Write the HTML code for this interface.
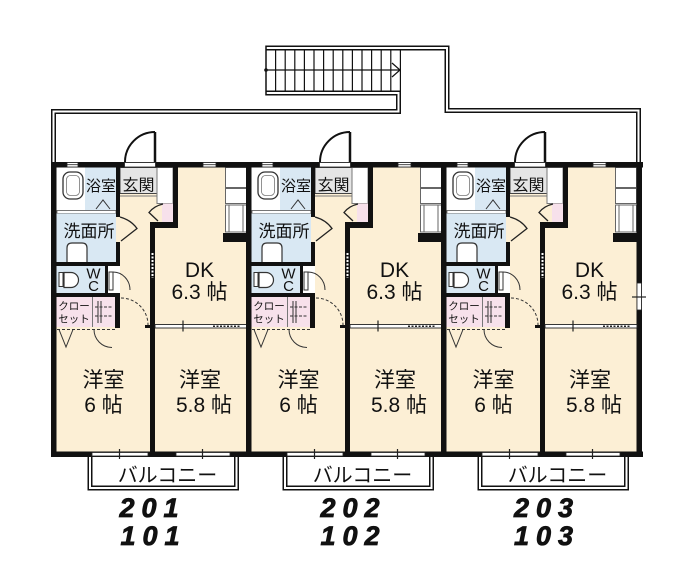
<!DOCTYPE html>
<html><head><meta charset="utf-8">
<style>
html,body{margin:0;padding:0;background:#fff;}
svg{display:block}
text{font-family:"Liberation Sans","Noto Sans CJK JP",sans-serif;fill:#111;}
</style></head><body>
<svg width="700" height="581" viewBox="0 0 700 581" xmlns="http://www.w3.org/2000/svg">
<rect x="0" y="0" width="700" height="581" fill="#fff"/>

<!-- corridor & stairs double lines -->
<g fill="none" stroke-linejoin="miter">
<path d="M53.5,163 V111.5 H398.5 V93 H266" stroke="#111" stroke-width="5"/>
<path d="M266,48 H447 V110.5 H638.5 V163" stroke="#111" stroke-width="5"/>
<path d="M53.5,166 V111.5 H398.5 V93 H266" stroke="#fff" stroke-width="2"/>
<path d="M266,48 H447 V110.5 H638.5 V166" stroke="#fff" stroke-width="2"/>
</g>
<g stroke="#111" stroke-width="1.2">
<line x1="275.6" y1="50" x2="275.6" y2="90.5"/>
<line x1="285.2" y1="50" x2="285.2" y2="90.5"/>
<line x1="294.8" y1="50" x2="294.8" y2="90.5"/>
<line x1="304.4" y1="50" x2="304.4" y2="90.5"/>
<line x1="314" y1="50" x2="314" y2="90.5"/>
<line x1="323.6" y1="50" x2="323.6" y2="90.5"/>
<line x1="333.2" y1="50" x2="333.2" y2="90.5"/>
<line x1="342.8" y1="50" x2="342.8" y2="90.5"/>
<line x1="352.4" y1="50" x2="352.4" y2="90.5"/>
<line x1="362" y1="50" x2="362" y2="90.5"/>
<line x1="371.6" y1="50" x2="371.6" y2="90.5"/>
<line x1="381.2" y1="50" x2="381.2" y2="90.5"/>
<line x1="390.8" y1="50" x2="390.8" y2="90.5"/>
<line x1="400.4" y1="50" x2="400.4" y2="90.5"/>
<line x1="266" y1="70" x2="400" y2="70"/>
</g>
<path d="M392,63 L400,70 L392,77" fill="none" stroke="#111" stroke-width="1.2"/>
<line x1="266" y1="45.5" x2="266" y2="95.5" stroke="#111" stroke-width="1.5"/>
<circle cx="266" cy="70" r="1.8" fill="#111"/>

<!-- UNIT TEMPLATE 1 -->
<g transform="translate(0,0)">
<rect x="56" y="167" width="192" height="285" fill="#fcefd5"/>
<rect x="56" y="167" width="30" height="44" fill="#fff"/>
<rect x="85" y="167" width="31" height="44" fill="#d9e8f3"/>
<rect x="63" y="172" width="20" height="27" rx="7" fill="#fff" stroke="#333" stroke-width="1.3"/>
<rect x="66.5" y="175.5" width="13" height="20" rx="4" fill="none" stroke="#777" stroke-width="0.8"/>
<text x="101" y="191" font-size="15" text-anchor="middle">浴室</text>
<polyline points="96,209 103,200 110,209" fill="none" stroke="#333" stroke-width="1"/>
<rect x="57" y="210.5" width="59" height="3" fill="#fff" stroke="#555" stroke-width="0.8"/>
<rect x="56" y="213.5" width="60" height="49" fill="#d9e8f3"/>
<path d="M67,262 V248 Q67,243 72,243 H82 Q87,243 87,248 V262" fill="#fff" stroke="#333" stroke-width="1.2"/>
<text x="89" y="237" font-size="17" text-anchor="middle">洗面所</text>
<rect x="56" y="266" width="49" height="27" fill="#d9e8f3"/>
<rect x="105" y="266" width="15" height="27" fill="#fff"/>
<rect x="59" y="272.5" width="4" height="14" fill="#fff" stroke="#333" stroke-width="1"/>
<path d="M64,272.5 H71 A7.5,7.5 0 0 1 71,287.5 H64 Z" fill="#fff" stroke="#333" stroke-width="1.2"/>
<text x="93.5" y="278.5" font-size="15" text-anchor="middle">W</text>
<text x="93.5" y="291" font-size="15" text-anchor="middle">C</text>
<rect x="109" y="272" width="4" height="18" fill="#fff" stroke="#333" stroke-width="1"/>
<path d="M113,272 A17,18 0 0 1 130,290" fill="none" stroke="#333" stroke-width="1"/>
<rect x="56" y="297" width="59" height="30" fill="#f7e1eb"/>
<line x1="92.5" y1="297" x2="92.5" y2="327" stroke="#777" stroke-width="1"/>
<text x="74" y="309.5" font-size="10.5" text-anchor="middle">クロー</text>
<text x="74" y="322.5" font-size="10.5" text-anchor="middle">セット</text>
<g stroke="#333" stroke-width="1">
<line x1="98" y1="301" x2="98" y2="323"/>
<line x1="101" y1="301" x2="101" y2="323"/>
<line x1="95" y1="307" x2="112" y2="307" stroke-dasharray="3,1.5"/>
<line x1="95" y1="316" x2="112" y2="316" stroke-dasharray="3,1.5"/>
<line x1="57" y1="329.5" x2="115" y2="329.5" stroke-dasharray="3,2"/>
</g>
<polyline points="59,329.5 66,347 73,329.5" fill="none" stroke="#333" stroke-width="1"/>
<path d="M94,329.5 A18,18 0 0 0 112,347.5" fill="none" stroke="#333" stroke-width="1"/>
<rect x="120" y="167.5" width="37" height="26" fill="#e5e5e5" stroke="#444" stroke-width="1"/>
<line x1="120" y1="196" x2="157" y2="196" stroke="#777" stroke-width="1"/>
<text x="138.5" y="190.5" font-size="16" text-anchor="middle">玄関</text>
<rect x="157" y="167.5" width="16" height="36" fill="#fff" stroke="#777" stroke-width="1"/>
<rect x="162" y="203.5" width="11" height="19" fill="#f7e1eb"/>
<path d="M163,204 Q154,206 149,212.5 L158,221" fill="none" stroke="#222" stroke-width="1.3"/>
<path d="M120,217 Q131,220 137,228.5 L121,241" fill="none" stroke="#222" stroke-width="1.3"/>
<rect x="225" y="167" width="22" height="66" fill="#fff"/>
<g fill="none" stroke="#666" stroke-width="1">
<rect x="225.5" y="167.5" width="21" height="20"/>
<rect x="225.5" y="188.5" width="21" height="15"/>
<rect x="225.5" y="205" width="21" height="27"/>
<line x1="229" y1="205" x2="229" y2="232"/>
<line x1="243" y1="205" x2="243" y2="232"/>
</g>
<!-- walls -->
<g fill="#111">
<rect x="51" y="162" width="202" height="5.5"/>
<rect x="51" y="451.5" width="202" height="5.5"/>
<rect x="51" y="162" width="5.5" height="295"/>
<rect x="247" y="162" width="6" height="295"/>
<rect x="116" y="163" width="4" height="54"/>
<rect x="116" y="242" width="4" height="24"/>
<rect x="56" y="262" width="64" height="4"/>
<rect x="105" y="266" width="3" height="27"/>
<rect x="56" y="293" width="64" height="4"/>
<rect x="115" y="293" width="5" height="35"/>
<rect x="173" y="163" width="5" height="65"/>
<rect x="150" y="222" width="28" height="6"/>
<rect x="150" y="222" width="5" height="232"/>
<rect x="223" y="233" width="25" height="9"/>
<rect x="145" y="325" width="10" height="3"/>
</g>
<line x1="152.5" y1="253" x2="152.5" y2="278" stroke="#fff" stroke-width="2" stroke-dasharray="2,1.5"/>
<rect x="155" y="324.5" width="92" height="3.5" fill="#fff" stroke="#222" stroke-width="0.9"/>
<line x1="183" y1="320.5" x2="183" y2="331.5" stroke="#222" stroke-width="1.2"/>
<line x1="213" y1="326.25" x2="241" y2="326.25" stroke="#222" stroke-width="1.5" stroke-dasharray="2,1.5"/>
<path d="M121,298 A27,27 0 0 1 148,325" fill="none" stroke="#333" stroke-width="1" stroke-dasharray="3,2"/>
<!-- top vents & door -->
<g fill="#fff" stroke="#222" stroke-width="0.8">
<rect x="67" y="162.5" width="11" height="4.5"/>
<rect x="203" y="162.5" width="13" height="4.5"/>
<rect x="124.5" y="162.5" width="31" height="4.5"/>
<rect x="92" y="452.5" width="56" height="3.5"/>
<rect x="176" y="452.5" width="54" height="3.5"/>
</g>
<line x1="67" y1="164.7" x2="78" y2="164.7" stroke="#222" stroke-width="0.8"/>
<line x1="203" y1="164.7" x2="216" y2="164.7" stroke="#222" stroke-width="0.8"/>
<line x1="119.5" y1="449" x2="119.5" y2="459" stroke="#222" stroke-width="1.2"/>
<line x1="202.5" y1="449" x2="202.5" y2="459" stroke="#222" stroke-width="1.2"/>
<path d="M125,162 A30,30 0 0 1 155,132" fill="none" stroke="#111" stroke-width="2"/>
<line x1="155" y1="132" x2="155" y2="162" stroke="#111" stroke-width="2.5"/>
<!-- balcony -->
<path d="M90,457 V488 H236.5 V457" fill="none" stroke="#111" stroke-width="5"/>
<path d="M90,457 V488 H236.5 V457" fill="none" stroke="#fff" stroke-width="2"/>
<text x="167.5" y="482" font-size="20" text-anchor="middle">バルコニー</text>
<!-- room texts -->
<text x="199.5" y="277" font-size="21" text-anchor="middle">DK</text>
<text x="199.5" y="299" font-size="21" text-anchor="middle">6.3 帖</text>
<text x="103.5" y="387" font-size="21" text-anchor="middle">洋室</text>
<text x="103.5" y="412" font-size="21" text-anchor="middle">6 帖</text>
<text x="200" y="387" font-size="21" text-anchor="middle">洋室</text>
<text x="204" y="412" font-size="21" text-anchor="middle">5.8 帖</text>
</g>

<!-- UNIT 2 -->
<g transform="translate(195,0)">
<rect x="56" y="167" width="192" height="285" fill="#fcefd5"/>
<rect x="56" y="167" width="30" height="44" fill="#fff"/>
<rect x="85" y="167" width="31" height="44" fill="#d9e8f3"/>
<rect x="63" y="172" width="20" height="27" rx="7" fill="#fff" stroke="#333" stroke-width="1.3"/>
<rect x="66.5" y="175.5" width="13" height="20" rx="4" fill="none" stroke="#777" stroke-width="0.8"/>
<text x="101" y="191" font-size="15" text-anchor="middle">浴室</text>
<polyline points="96,209 103,200 110,209" fill="none" stroke="#333" stroke-width="1"/>
<rect x="57" y="210.5" width="59" height="3" fill="#fff" stroke="#555" stroke-width="0.8"/>
<rect x="56" y="213.5" width="60" height="49" fill="#d9e8f3"/>
<path d="M67,262 V248 Q67,243 72,243 H82 Q87,243 87,248 V262" fill="#fff" stroke="#333" stroke-width="1.2"/>
<text x="89" y="237" font-size="17" text-anchor="middle">洗面所</text>
<rect x="56" y="266" width="49" height="27" fill="#d9e8f3"/>
<rect x="105" y="266" width="15" height="27" fill="#fff"/>
<rect x="59" y="272.5" width="4" height="14" fill="#fff" stroke="#333" stroke-width="1"/>
<path d="M64,272.5 H71 A7.5,7.5 0 0 1 71,287.5 H64 Z" fill="#fff" stroke="#333" stroke-width="1.2"/>
<text x="93.5" y="278.5" font-size="15" text-anchor="middle">W</text>
<text x="93.5" y="291" font-size="15" text-anchor="middle">C</text>
<rect x="109" y="272" width="4" height="18" fill="#fff" stroke="#333" stroke-width="1"/>
<path d="M113,272 A17,18 0 0 1 130,290" fill="none" stroke="#333" stroke-width="1"/>
<rect x="56" y="297" width="59" height="30" fill="#f7e1eb"/>
<line x1="92.5" y1="297" x2="92.5" y2="327" stroke="#777" stroke-width="1"/>
<text x="74" y="309.5" font-size="10.5" text-anchor="middle">クロー</text>
<text x="74" y="322.5" font-size="10.5" text-anchor="middle">セット</text>
<g stroke="#333" stroke-width="1">
<line x1="98" y1="301" x2="98" y2="323"/>
<line x1="101" y1="301" x2="101" y2="323"/>
<line x1="95" y1="307" x2="112" y2="307" stroke-dasharray="3,1.5"/>
<line x1="95" y1="316" x2="112" y2="316" stroke-dasharray="3,1.5"/>
<line x1="57" y1="329.5" x2="115" y2="329.5" stroke-dasharray="3,2"/>
</g>
<polyline points="59,329.5 66,347 73,329.5" fill="none" stroke="#333" stroke-width="1"/>
<path d="M94,329.5 A18,18 0 0 0 112,347.5" fill="none" stroke="#333" stroke-width="1"/>
<rect x="120" y="167.5" width="37" height="26" fill="#e5e5e5" stroke="#444" stroke-width="1"/>
<line x1="120" y1="196" x2="157" y2="196" stroke="#777" stroke-width="1"/>
<text x="138.5" y="190.5" font-size="16" text-anchor="middle">玄関</text>
<rect x="157" y="167.5" width="16" height="36" fill="#fff" stroke="#777" stroke-width="1"/>
<rect x="162" y="203.5" width="11" height="19" fill="#f7e1eb"/>
<path d="M163,204 Q154,206 149,212.5 L158,221" fill="none" stroke="#222" stroke-width="1.3"/>
<path d="M120,217 Q131,220 137,228.5 L121,241" fill="none" stroke="#222" stroke-width="1.3"/>
<rect x="225" y="167" width="22" height="66" fill="#fff"/>
<g fill="none" stroke="#666" stroke-width="1">
<rect x="225.5" y="167.5" width="21" height="20"/>
<rect x="225.5" y="188.5" width="21" height="15"/>
<rect x="225.5" y="205" width="21" height="27"/>
<line x1="229" y1="205" x2="229" y2="232"/>
<line x1="243" y1="205" x2="243" y2="232"/>
</g>
<g fill="#111">
<rect x="51" y="162" width="202" height="5.5"/>
<rect x="51" y="451.5" width="202" height="5.5"/>
<rect x="51" y="162" width="5.5" height="295"/>
<rect x="247" y="162" width="6" height="295"/>
<rect x="116" y="163" width="4" height="54"/>
<rect x="116" y="242" width="4" height="24"/>
<rect x="56" y="262" width="64" height="4"/>
<rect x="105" y="266" width="3" height="27"/>
<rect x="56" y="293" width="64" height="4"/>
<rect x="115" y="293" width="5" height="35"/>
<rect x="173" y="163" width="5" height="65"/>
<rect x="150" y="222" width="28" height="6"/>
<rect x="150" y="222" width="5" height="232"/>
<rect x="223" y="233" width="25" height="9"/>
<rect x="145" y="325" width="10" height="3"/>
</g>
<line x1="152.5" y1="253" x2="152.5" y2="278" stroke="#fff" stroke-width="2" stroke-dasharray="2,1.5"/>
<rect x="155" y="324.5" width="92" height="3.5" fill="#fff" stroke="#222" stroke-width="0.9"/>
<line x1="183" y1="320.5" x2="183" y2="331.5" stroke="#222" stroke-width="1.2"/>
<line x1="213" y1="326.25" x2="241" y2="326.25" stroke="#222" stroke-width="1.5" stroke-dasharray="2,1.5"/>
<path d="M121,298 A27,27 0 0 1 148,325" fill="none" stroke="#333" stroke-width="1" stroke-dasharray="3,2"/>
<g fill="#fff" stroke="#222" stroke-width="0.8">
<rect x="67" y="162.5" width="11" height="4.5"/>
<rect x="203" y="162.5" width="13" height="4.5"/>
<rect x="124.5" y="162.5" width="31" height="4.5"/>
<rect x="92" y="452.5" width="56" height="3.5"/>
<rect x="176" y="452.5" width="54" height="3.5"/>
</g>
<line x1="67" y1="164.7" x2="78" y2="164.7" stroke="#222" stroke-width="0.8"/>
<line x1="203" y1="164.7" x2="216" y2="164.7" stroke="#222" stroke-width="0.8"/>
<line x1="119.5" y1="449" x2="119.5" y2="459" stroke="#222" stroke-width="1.2"/>
<line x1="202.5" y1="449" x2="202.5" y2="459" stroke="#222" stroke-width="1.2"/>
<path d="M125,162 A30,30 0 0 1 155,132" fill="none" stroke="#111" stroke-width="2"/>
<line x1="155" y1="132" x2="155" y2="162" stroke="#111" stroke-width="2.5"/>
<path d="M90,457 V488 H236.5 V457" fill="none" stroke="#111" stroke-width="5"/>
<path d="M90,457 V488 H236.5 V457" fill="none" stroke="#fff" stroke-width="2"/>
<text x="167.5" y="482" font-size="20" text-anchor="middle">バルコニー</text>
<text x="199.5" y="277" font-size="21" text-anchor="middle">DK</text>
<text x="199.5" y="299" font-size="21" text-anchor="middle">6.3 帖</text>
<text x="103.5" y="387" font-size="21" text-anchor="middle">洋室</text>
<text x="103.5" y="412" font-size="21" text-anchor="middle">6 帖</text>
<text x="200" y="387" font-size="21" text-anchor="middle">洋室</text>
<text x="204" y="412" font-size="21" text-anchor="middle">5.8 帖</text>
</g>

<!-- UNIT 3 -->
<g transform="translate(390,0)">
<rect x="56" y="167" width="192" height="285" fill="#fcefd5"/>
<rect x="56" y="167" width="30" height="44" fill="#fff"/>
<rect x="85" y="167" width="31" height="44" fill="#d9e8f3"/>
<rect x="63" y="172" width="20" height="27" rx="7" fill="#fff" stroke="#333" stroke-width="1.3"/>
<rect x="66.5" y="175.5" width="13" height="20" rx="4" fill="none" stroke="#777" stroke-width="0.8"/>
<text x="101" y="191" font-size="15" text-anchor="middle">浴室</text>
<polyline points="96,209 103,200 110,209" fill="none" stroke="#333" stroke-width="1"/>
<rect x="57" y="210.5" width="59" height="3" fill="#fff" stroke="#555" stroke-width="0.8"/>
<rect x="56" y="213.5" width="60" height="49" fill="#d9e8f3"/>
<path d="M67,262 V248 Q67,243 72,243 H82 Q87,243 87,248 V262" fill="#fff" stroke="#333" stroke-width="1.2"/>
<text x="89" y="237" font-size="17" text-anchor="middle">洗面所</text>
<rect x="56" y="266" width="49" height="27" fill="#d9e8f3"/>
<rect x="105" y="266" width="15" height="27" fill="#fff"/>
<rect x="59" y="272.5" width="4" height="14" fill="#fff" stroke="#333" stroke-width="1"/>
<path d="M64,272.5 H71 A7.5,7.5 0 0 1 71,287.5 H64 Z" fill="#fff" stroke="#333" stroke-width="1.2"/>
<text x="93.5" y="278.5" font-size="15" text-anchor="middle">W</text>
<text x="93.5" y="291" font-size="15" text-anchor="middle">C</text>
<rect x="109" y="272" width="4" height="18" fill="#fff" stroke="#333" stroke-width="1"/>
<path d="M113,272 A17,18 0 0 1 130,290" fill="none" stroke="#333" stroke-width="1"/>
<rect x="56" y="297" width="59" height="30" fill="#f7e1eb"/>
<line x1="92.5" y1="297" x2="92.5" y2="327" stroke="#777" stroke-width="1"/>
<text x="74" y="309.5" font-size="10.5" text-anchor="middle">クロー</text>
<text x="74" y="322.5" font-size="10.5" text-anchor="middle">セット</text>
<g stroke="#333" stroke-width="1">
<line x1="98" y1="301" x2="98" y2="323"/>
<line x1="101" y1="301" x2="101" y2="323"/>
<line x1="95" y1="307" x2="112" y2="307" stroke-dasharray="3,1.5"/>
<line x1="95" y1="316" x2="112" y2="316" stroke-dasharray="3,1.5"/>
<line x1="57" y1="329.5" x2="115" y2="329.5" stroke-dasharray="3,2"/>
</g>
<polyline points="59,329.5 66,347 73,329.5" fill="none" stroke="#333" stroke-width="1"/>
<path d="M94,329.5 A18,18 0 0 0 112,347.5" fill="none" stroke="#333" stroke-width="1"/>
<rect x="120" y="167.5" width="37" height="26" fill="#e5e5e5" stroke="#444" stroke-width="1"/>
<line x1="120" y1="196" x2="157" y2="196" stroke="#777" stroke-width="1"/>
<text x="138.5" y="190.5" font-size="16" text-anchor="middle">玄関</text>
<rect x="157" y="167.5" width="16" height="36" fill="#fff" stroke="#777" stroke-width="1"/>
<rect x="162" y="203.5" width="11" height="19" fill="#f7e1eb"/>
<path d="M163,204 Q154,206 149,212.5 L158,221" fill="none" stroke="#222" stroke-width="1.3"/>
<path d="M120,217 Q131,220 137,228.5 L121,241" fill="none" stroke="#222" stroke-width="1.3"/>
<rect x="225" y="167" width="22" height="66" fill="#fff"/>
<g fill="none" stroke="#666" stroke-width="1">
<rect x="225.5" y="167.5" width="21" height="20"/>
<rect x="225.5" y="188.5" width="21" height="15"/>
<rect x="225.5" y="205" width="21" height="27"/>
<line x1="229" y1="205" x2="229" y2="232"/>
<line x1="243" y1="205" x2="243" y2="232"/>
</g>
<g fill="#111">
<rect x="51" y="162" width="202" height="5.5"/>
<rect x="51" y="451.5" width="202" height="5.5"/>
<rect x="51" y="162" width="5.5" height="295"/>
<rect x="246.5" y="162" width="5.5" height="295"/>
<rect x="116" y="163" width="4" height="54"/>
<rect x="116" y="242" width="4" height="24"/>
<rect x="56" y="262" width="64" height="4"/>
<rect x="105" y="266" width="3" height="27"/>
<rect x="56" y="293" width="64" height="4"/>
<rect x="115" y="293" width="5" height="35"/>
<rect x="173" y="163" width="5" height="65"/>
<rect x="150" y="222" width="28" height="6"/>
<rect x="150" y="222" width="5" height="232"/>
<rect x="223" y="233" width="25" height="9"/>
<rect x="145" y="325" width="10" height="3"/>
</g>
<line x1="152.5" y1="253" x2="152.5" y2="278" stroke="#fff" stroke-width="2" stroke-dasharray="2,1.5"/>
<rect x="155" y="324.5" width="92" height="3.5" fill="#fff" stroke="#222" stroke-width="0.9"/>
<line x1="183" y1="320.5" x2="183" y2="331.5" stroke="#222" stroke-width="1.2"/>
<line x1="213" y1="326.25" x2="241" y2="326.25" stroke="#222" stroke-width="1.5" stroke-dasharray="2,1.5"/>
<path d="M121,298 A27,27 0 0 1 148,325" fill="none" stroke="#333" stroke-width="1" stroke-dasharray="3,2"/>
<g fill="#fff" stroke="#222" stroke-width="0.8">
<rect x="67" y="162.5" width="11" height="4.5"/>
<rect x="203" y="162.5" width="13" height="4.5"/>
<rect x="124.5" y="162.5" width="31" height="4.5"/>
<rect x="92" y="452.5" width="56" height="3.5"/>
<rect x="176" y="452.5" width="54" height="3.5"/>
<rect x="247" y="283" width="4.5" height="27"/>
</g>
<line x1="242" y1="297" x2="256" y2="297" stroke="#222" stroke-width="1.2"/>
<line x1="67" y1="164.7" x2="78" y2="164.7" stroke="#222" stroke-width="0.8"/>
<line x1="203" y1="164.7" x2="216" y2="164.7" stroke="#222" stroke-width="0.8"/>
<line x1="119.5" y1="449" x2="119.5" y2="459" stroke="#222" stroke-width="1.2"/>
<line x1="202.5" y1="449" x2="202.5" y2="459" stroke="#222" stroke-width="1.2"/>
<path d="M125,162 A30,30 0 0 1 155,132" fill="none" stroke="#111" stroke-width="2"/>
<line x1="155" y1="132" x2="155" y2="162" stroke="#111" stroke-width="2.5"/>
<path d="M90,457 V488 H236.5 V457" fill="none" stroke="#111" stroke-width="5"/>
<path d="M90,457 V488 H236.5 V457" fill="none" stroke="#fff" stroke-width="2"/>
<text x="167.5" y="482" font-size="20" text-anchor="middle">バルコニー</text>
<text x="199.5" y="277" font-size="21" text-anchor="middle">DK</text>
<text x="199.5" y="299" font-size="21" text-anchor="middle">6.3 帖</text>
<text x="103.5" y="387" font-size="21" text-anchor="middle">洋室</text>
<text x="103.5" y="412" font-size="21" text-anchor="middle">6 帖</text>
<text x="200" y="387" font-size="21" text-anchor="middle">洋室</text>
<text x="204" y="412" font-size="21" text-anchor="middle">5.8 帖</text>
</g>

<!-- unit numbers -->
<g font-size="27" font-weight="bold" font-style="italic" letter-spacing="7" text-anchor="middle" stroke="#111" stroke-width="0.8">
<text x="152.5" y="517">201</text>
<text x="153.5" y="545">101</text>
<text x="353.5" y="517">202</text>
<text x="353.5" y="545">102</text>
<text x="547" y="517">203</text>
<text x="547" y="545">103</text>
</g>
</svg>
</body></html>
